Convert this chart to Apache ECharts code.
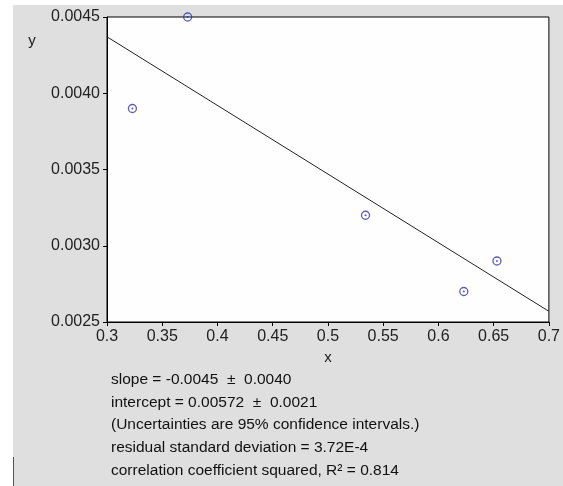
<!DOCTYPE html>
<html><head><meta charset="utf-8">
<script src="https://cdn.jsdelivr.net/npm/echarts@6/dist/echarts.min.js"></script>
<style>html,body{margin:0;padding:0;background:#fff}#c{width:563px;height:486px}</style>
</head><body><div id="c"></div>
<script>
// data
const xValues = [0.323, 0.373, 0.534, 0.623, 0.653];
const yValues = [0.0039, 0.0045, 0.0032, 0.0027, 0.0029];
const fitSlope = -0.0045;
const fitIntercept = 0.00572;
const fitRange = [0.3, 0.7];
const statLines = [
  'slope = -0.0045  \u00b1  0.0040',
  'intercept = 0.00572  \u00b1  0.0021',
  '(Uncertainties are 95% confidence intervals.)',
  'residual standard deviation = 3.72E-4',
  'correlation coefficient squared, R\u00b2 = 0.814'
];

const pts = xValues.map((x, i) => [x, yValues[i]]);
const fitLine = fitRange.map(x => [x, fitIntercept + fitSlope * x]);
const FONT = 'Liberation Sans, Arial, sans-serif';
const ch = echarts.init(document.getElementById('c'));
const graphics = [
  {type:'rect', shape:{x:13,y:5,width:550,height:481}, style:{fill:'#dfdfdf'}, z:-10, silent:true},
  {type:'line', shape:{x1:13.5,y1:457,x2:13.5,y2:486}, style:{stroke:'#555',lineWidth:1}, z:-9}
];
statLines.forEach((t, i) => {
  graphics.push({type:'text', style:{x:111, y:380 + i*22.6, text:t, font:'15.5px ' + FONT, fill:'#111', verticalAlign:'middle'}});
});
ch.setOption({
  animation:false,
  backgroundColor:'#fff',
  graphic: graphics,
  grid:{left:107, top:17, right:14, bottom:164, show:true, backgroundColor:'#fefefe', borderColor:'#000', borderWidth:1},
  xAxis:{type:'value', min:0.3, max:0.7, interval:0.05, name:'x', nameLocation:'middle', nameGap:28,
    nameTextStyle:{fontFamily:FONT, fontSize:15, color:'#222'},
    axisLine:{lineStyle:{color:'#000'}}, axisTick:{length:4, lineStyle:{color:'#000'}},
    axisLabel:{fontFamily:FONT, fontSize:16, color:'#222', margin:7,
      formatter:v => String(parseFloat(v.toFixed(2)))},
    splitLine:{show:false}},
  yAxis:{type:'value', min:0.0025, max:0.0045, interval:0.0005, name:'y', nameLocation:'end',
    nameGap:0, nameTextStyle:{fontFamily:FONT, fontSize:15, color:'#222', padding:[0,0,-31,-150]},
    axisLine:{lineStyle:{color:'#000'}}, axisTick:{length:4, lineStyle:{color:'#000'}},
    axisLabel:{fontFamily:FONT, fontSize:16, color:'#222', margin:7, formatter:v => v.toFixed(4)},
    splitLine:{show:false}},
  series:[
    {type:'line', data:fitLine, symbol:'none', lineStyle:{color:'#222', width:1}, z:2},
    {type:'scatter', data:pts, symbol:'circle', symbolSize:8, itemStyle:{color:'rgba(255,255,255,0)', borderColor:'#3535a5', borderWidth:1.3}, z:3},
    {type:'scatter', data:pts, symbol:'circle', symbolSize:2, itemStyle:{color:'#3535a5'}, z:4}
  ]
});
</script></body></html>
